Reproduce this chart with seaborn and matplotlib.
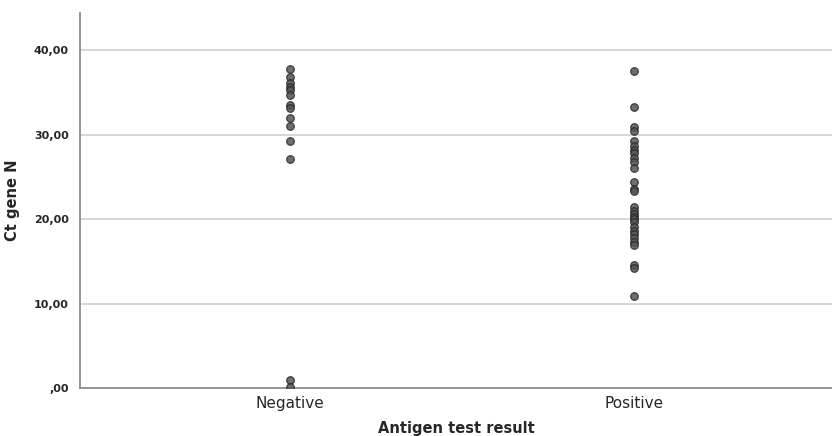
import matplotlib
matplotlib.use('Agg')
import matplotlib.pyplot as plt
import seaborn as sns
import pandas as pd
from matplotlib.ticker import FuncFormatter

# Ct values
negative_ct = [37.8, 36.8, 36.1, 35.6, 35.3, 34.7, 33.5, 33.2, 32.0, 31.0,
               29.3, 27.1, 1.0, 0.1]
positive_ct = [37.6, 33.3, 30.9, 30.4, 29.2, 28.7, 28.2, 27.8, 27.2, 26.8,
               26.0, 24.4, 23.6, 23.3, 21.4, 21.0, 20.6, 20.3, 20.0, 19.7,
               19.1, 18.6, 18.2, 17.8, 17.3, 16.9, 14.6, 14.2, 10.9]
categories = ['Negative', 'Positive']
y_ticks = [0, 10, 20, 30, 40]

df = pd.DataFrame({
    'result': [categories[0]] * len(negative_ct) + [categories[1]] * len(positive_ct),
    'ct': negative_ct + positive_ct,
})

sns.set_style('white')
plt.rcParams['font.family'] = ['DejaVu Sans']

fig = plt.figure(figsize=(8.32, 4.36), dpi=100)
ax = fig.add_axes([0.096, 0.110, 0.904, 0.860])

sns.stripplot(data=df, x='result', y='ct', order=categories, jitter=False,
              color='#555555', edgecolor='#222222', linewidth=0.8,
              size=5.5, alpha=0.85, ax=ax, zorder=3)

ax.set_xlim(-0.61, 1.576)
ax.set_ylim(0, 44.4)
ax.set_yticks(y_ticks)
ax.yaxis.set_major_formatter(FuncFormatter(
    lambda v, p: ',00' if v == 0 else f'{v:.2f}'.replace('.', ',')))
ax.grid(axis='y', color='#d4d4d4', linewidth=1.3, zorder=0)
ax.set_axisbelow(True)

for s in ['top', 'right']:
    ax.spines[s].set_visible(False)
for s in ['left', 'bottom']:
    ax.spines[s].set_color('#8c8c8c')
    ax.spines[s].set_linewidth(1.3)

ax.tick_params(axis='y', length=0, pad=8, labelsize=8)
for t in ax.get_yticklabels():
    t.set_fontweight('bold')
ax.tick_params(axis='x', length=0, pad=6, labelsize=11)
for t in ax.get_xticklabels():
    t.set_fontweight('medium')

ax.set_ylabel('Ct gene N', fontsize=10.5, fontweight='bold')
ax.yaxis.set_label_coords(-0.08, 0.5)
ax.set_xlabel('Antigen test result', fontsize=10.5, fontweight='bold')
ax.xaxis.set_label_coords(0.5, -0.088)

fig.savefig('out.png', dpi=100)
